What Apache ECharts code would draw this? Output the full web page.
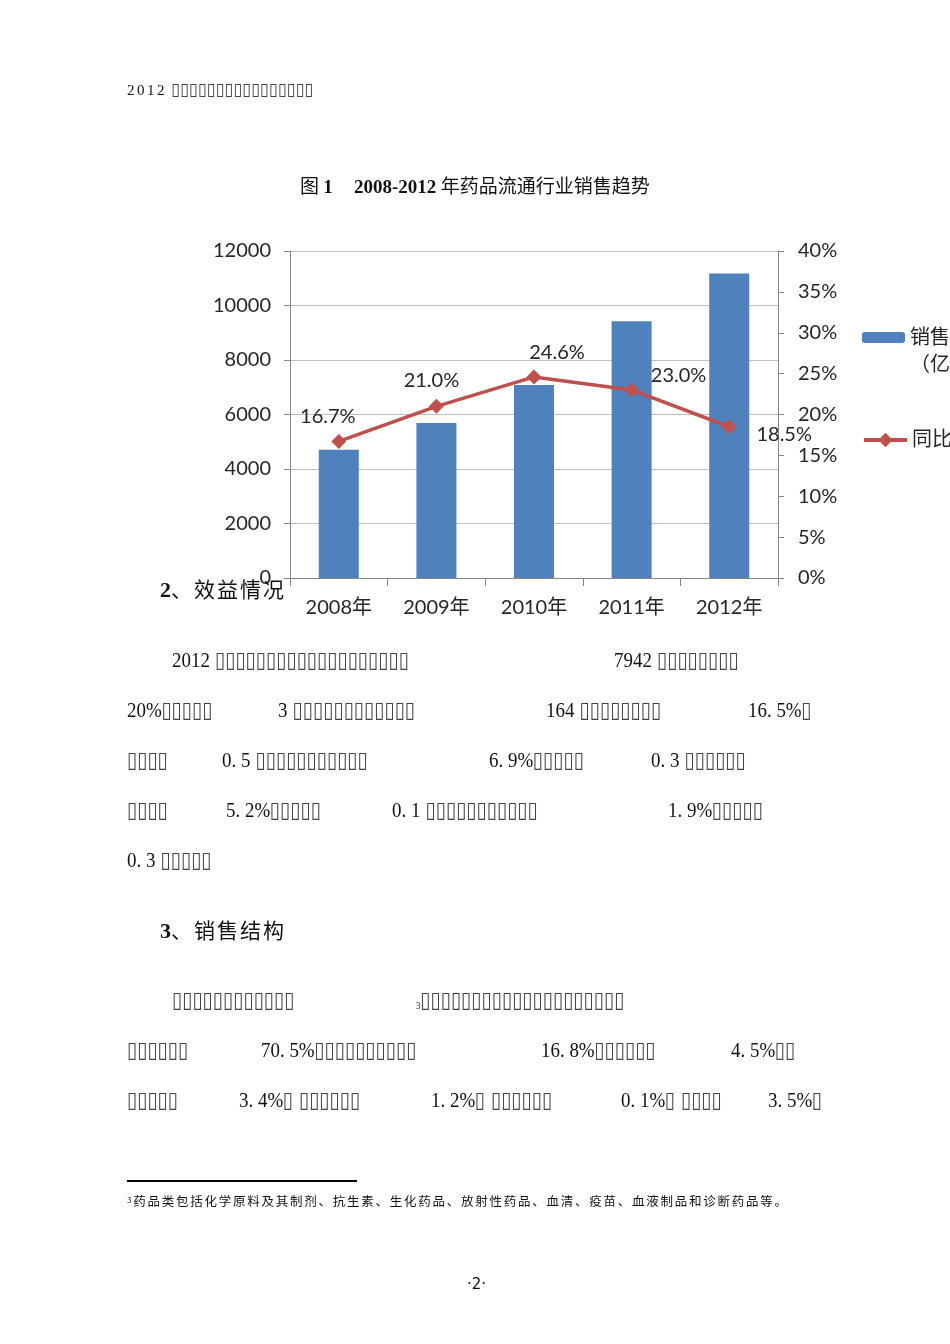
<!DOCTYPE html>
<html><head><meta charset="utf-8">
<script src="https://cdn.jsdelivr.net/npm/echarts@6/dist/echarts.min.js"></script>
<style>
html,body{margin:0;padding:0;background:#fff;}
#page{position:relative;width:950px;height:1344px;overflow:hidden;background:#fff;}
#chart{position:absolute;left:0;top:0;width:950px;height:1344px;}
.t{position:absolute;white-space:pre;color:#111;font-family:"Liberation Serif","DejaVu Sans","Noto Sans CJK SC",serif;font-size:22px;line-height:20px;z-index:5;transform-origin:0 50%;transform:scaleX(0.86);}
.b{display:inline-block;font-family:"DejaVu Sans";font-size:22px;line-height:20px;letter-spacing:0;color:#444;transform:scaleX(0.98);transform-origin:0 50%;}
.h{font-family:"Noto Sans CJK SC",sans-serif;font-size:21px;letter-spacing:2px;color:#111;}
.p{position:absolute;white-space:pre;color:#111;z-index:5;}
</style></head>
<body><div id="page">
<div id="chart"></div>

<div class="p" style="left:127px;top:79px;font-family:'Liberation Serif';font-size:15px;line-height:20px;letter-spacing:2.5px;">2012<span style="letter-spacing:0"> </span><span class="b" style="font-size:17px;letter-spacing:0;transform:scaleX(0.95)">▯▯▯▯▯▯▯▯▯▯▯▯▯▯▯▯</span></div>

<div class="p" style="left:300px;top:173px;font-size:19px;line-height:24px;font-family:'Noto Sans CJK SC',sans-serif;">图 <b style="font-family:'Liberation Serif'">1</b>&nbsp;&nbsp;&nbsp;&nbsp;&nbsp;<b style="font-family:'Liberation Serif';font-size:19px">2008-2012</b> 年药品流通行业销售趋势</div>

<div class="p" style="left:160px;top:576px;line-height:24px;"><b style="font-family:'Liberation Serif';font-size:22px">2</b><span class="h">、效益情况</span></div>

<div class="t" style="left:172px;top:650px;">2012 <span class="b">▯▯▯▯▯▯▯▯▯▯▯▯▯▯▯▯▯▯▯</span></div>
<div class="t" style="left:614px;top:650px;">7942 <span class="b">▯▯▯▯▯▯▯▯</span></div>

<div class="t" style="left:127px;top:700px;">20%<span class="b">▯▯▯▯▯</span></div>
<div class="t" style="left:278px;top:700px;">3 <span class="b">▯▯▯▯▯▯▯▯▯▯▯▯</span></div>
<div class="t" style="left:546px;top:700px;">164 <span class="b">▯▯▯▯▯▯▯▯</span></div>
<div class="t" style="left:748px;top:700px;">16. 5%<span class="b">▯</span></div>

<div class="t" style="left:127px;top:750px;"><span class="b">▯▯▯▯</span></div>
<div class="t" style="left:222px;top:750px;">0. 5 <span class="b">▯▯▯▯▯▯▯▯▯▯▯</span></div>
<div class="t" style="left:489px;top:750px;">6. 9%<span class="b">▯▯▯▯▯</span></div>
<div class="t" style="left:651px;top:750px;">0. 3 <span class="b">▯▯▯▯▯▯</span></div>

<div class="t" style="left:127px;top:800px;"><span class="b">▯▯▯▯</span></div>
<div class="t" style="left:226px;top:800px;">5. 2%<span class="b">▯▯▯▯▯</span></div>
<div class="t" style="left:392px;top:800px;">0. 1 <span class="b">▯▯▯▯▯▯▯▯▯▯▯</span></div>
<div class="t" style="left:668px;top:800px;">1. 9%<span class="b">▯▯▯▯▯</span></div>

<div class="t" style="left:127px;top:850px;">0. 3 <span class="b">▯▯▯▯▯</span></div>

<div class="p" style="left:160px;top:917px;line-height:24px;"><b style="font-family:'Liberation Serif';font-size:22px">3</b><span class="h">、销售结构</span></div>

<div class="t" style="left:172px;top:990px;"><span class="b">▯▯▯▯▯▯▯▯▯▯▯▯</span></div>
<div class="t" style="left:416px;top:990px;"><span style="font-size:10px;vertical-align:-2px">3</span><span class="b">▯▯▯▯▯▯▯▯▯▯▯▯▯▯▯▯▯▯▯▯</span></div>

<div class="t" style="left:127px;top:1040px;"><span class="b">▯▯▯▯▯▯</span></div>
<div class="t" style="left:261px;top:1040px;">70. 5%<span class="b">▯▯▯▯▯▯▯▯▯▯</span></div>
<div class="t" style="left:541px;top:1040px;">16. 8%<span class="b">▯▯▯▯▯▯</span></div>
<div class="t" style="left:731px;top:1040px;">4. 5%<span class="b">▯▯</span></div>

<div class="t" style="left:127px;top:1090px;"><span class="b">▯▯▯▯▯</span></div>
<div class="t" style="left:239px;top:1090px;">3. 4%<span class="b">▯ ▯▯▯▯▯▯</span></div>
<div class="t" style="left:431px;top:1090px;">1. 2%<span class="b">▯ ▯▯▯▯▯▯</span></div>
<div class="t" style="left:621px;top:1090px;">0. 1%<span class="b">▯ ▯▯▯▯</span></div>
<div class="t" style="left:768px;top:1090px;">3. 5%<span class="b">▯</span></div>

<div style="position:absolute;left:127px;top:1180px;width:230px;height:2px;background:#000;"></div>
<div class="p" style="left:127px;top:1191px;font-size:12.5px;line-height:18px;letter-spacing:1.75px;font-family:'Noto Sans CJK SC',sans-serif;"><span style="font-size:8px;vertical-align:3px">3</span>药品类包括化学原料及其制剂、抗生素、生化药品、放射性药品、血清、疫苗、血液制品和诊断药品等。</div>

<div class="p" style="left:467px;top:1275px;font-size:15px;line-height:18px;font-family:'DejaVu Sans';">·2·</div>
</div>
<script>
var categories = ['2008年', '2009年', '2010年', '2011年', '2012年'];
var salesValues = [4704, 5684, 7084, 9426, 11174];
var growthValues = [16.7, 21.0, 24.6, 23.0, 18.5];
var leftTicks = [0, 2000, 4000, 6000, 8000, 10000, 12000];
var rightTicks = [0, 5, 10, 15, 20, 25, 30, 35, 40];
var salesName = '销售总额（亿元）';
var growthName = '同比增长';

// label placement style (Excel-like manual placement), in px offsets from each point
var labelOffsets = [[-11, -25], [-5, -26], [23, -24], [47, -14], [55, 8]];

var chart = echarts.init(document.getElementById('chart'), null, {renderer: 'canvas'});
var fontMain = 'Lato, "Noto Sans CJK SC", sans-serif';
var txt = '#262626';
var axisGray = '#868686';

var lineData = growthValues.map(function (v, i) {
  return {value: v, label: {offset: labelOffsets[i]}};
});

chart.setOption({
  animation: false,
  textStyle: {fontFamily: fontMain},
  grid: {left: 290, top: 251, width: 488, height: 327, containLabel: false},
  legend: [{
    data: [salesName],
    orient: 'vertical',
    left: 862, top: 297, padding: 0,
    itemWidth: 43, itemHeight: 11, itemGap: 0,
    formatter: function () { return ' \n销售总额\n（亿元）'; },
    textStyle: {fontSize: 20, color: txt, lineHeight: 27, fontFamily: fontMain}
  }, {
    data: [growthName],
    orient: 'vertical',
    left: 862, top: 430, padding: 0,
    itemWidth: 43, itemHeight: 18,
    lineStyle: {width: 4},
    textStyle: {fontSize: 20, color: txt, fontFamily: fontMain}
  }],
  xAxis: {
    type: 'category',
    data: categories,
    boundaryGap: true,
    axisLine: {show: true, lineStyle: {color: axisGray, width: 1}},
    axisTick: {show: true, alignWithLabel: false, length: 8, lineStyle: {color: axisGray}},
    axisLabel: {fontSize: 20, color: txt, margin: 20, fontFamily: fontMain}
  },
  yAxis: [{
    type: 'value',
    min: leftTicks[0], max: leftTicks[leftTicks.length - 1], interval: leftTicks[1] - leftTicks[0],
    axisLine: {show: true, lineStyle: {color: axisGray}},
    axisTick: {show: true, length: 6, lineStyle: {color: axisGray}},
    axisLabel: {fontSize: 20, color: txt, margin: 19, fontFamily: fontMain,
      formatter: function (v) { return String(v); }},
    splitLine: {show: true, lineStyle: {color: '#BFBFBF', width: 1}}
  }, {
    type: 'value',
    position: 'right',
    min: rightTicks[0], max: rightTicks[rightTicks.length - 1], interval: rightTicks[1] - rightTicks[0],
    axisLine: {show: true, lineStyle: {color: axisGray}},
    axisTick: {show: true, length: 6, lineStyle: {color: axisGray}},
    axisLabel: {fontSize: 20, color: txt, margin: 20, fontFamily: fontMain, formatter: '{value}%'},
    splitLine: {show: false}
  }],
  series: [{
    name: salesName,
    type: 'bar',
    yAxisIndex: 0,
    data: salesValues,
    barWidth: 40,
    itemStyle: {color: '#4F81BD'}
  }, {
    name: growthName,
    type: 'line',
    yAxisIndex: 1,
    data: lineData,
    z: 5,
    symbol: 'diamond',
    symbolSize: 15,
    itemStyle: {color: '#C0504D'},
    lineStyle: {color: '#C0504D', width: 3.5},
    label: {
      show: true,
      position: 'inside',
      fontSize: 20,
      color: txt,
      fontFamily: fontMain,
      formatter: function (p) { return p.value.toFixed(1) + '%'; }
    }
  }]
});
</script>
</body></html>
